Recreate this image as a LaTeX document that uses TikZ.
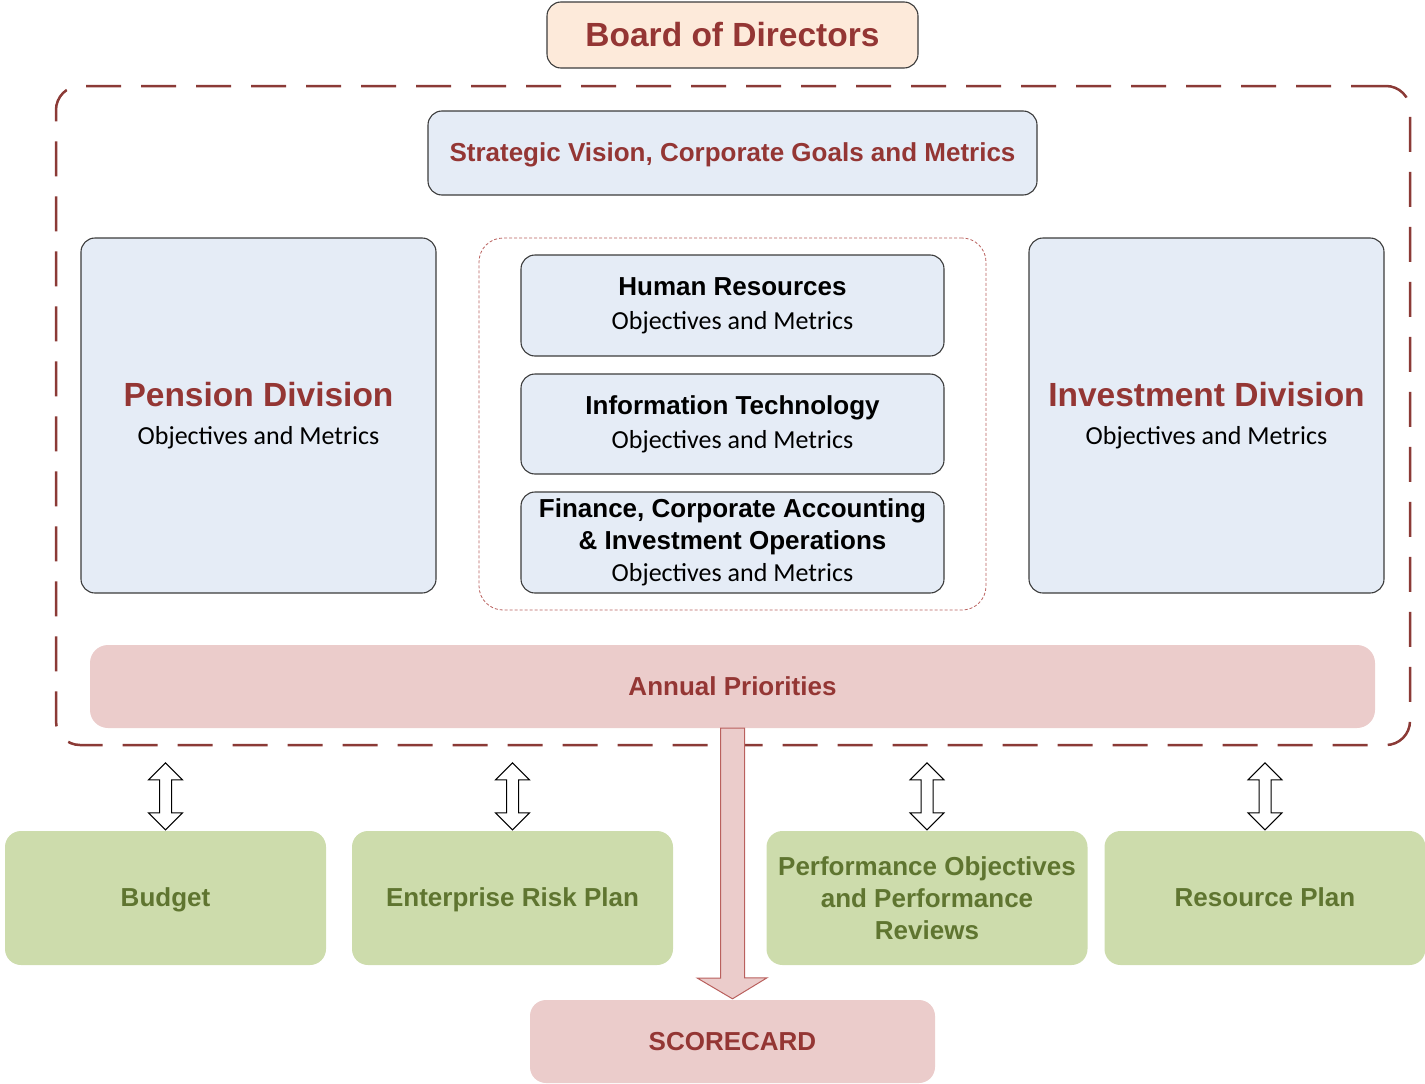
\documentclass[tikz,border=0pt]{standalone}
\usepackage{fontspec}
\setmainfont{Liberation Sans}
\newfontfamily\calibri{Carlito}
\usetikzlibrary{positioning}

\definecolor{boxline}{HTML}{3C3C3C}
\definecolor{boardfill}{HTML}{FDEADA}
\definecolor{bluefill}{HTML}{E5ECF6}
\definecolor{pinkfill}{HTML}{EBCCCB}
\definecolor{greenfill}{HTML}{CDDCAC}
\definecolor{greentext}{HTML}{5F7530}
\definecolor{redtext}{HTML}{943634}
\definecolor{framered}{HTML}{8B3A36}
\definecolor{arrowred}{HTML}{B9605D}

\begin{document}
\begin{tikzpicture}[x=1pt,y=-1pt,every node/.style={align=center,inner sep=0pt}]
  \tikzstyle{box}=[draw=boxline, line width=1.1pt, rounded corners=14, fill=bluefill]
  \tikzstyle{oneline}=[text height=19, text depth=2]
  \tikzstyle{frame}=[draw=framered, line width=2.5pt, rounded corners=24, dash pattern=on 35pt off 20pt]
  \tikzstyle{group}=[draw=arrowred, line width=0.8pt, rounded corners=24, dash pattern=on 3pt off 2pt]
  \tikzstyle{plan}=[fill=greenfill, rounded corners=16, minimum width=321, minimum height=134,
                    text=greentext, font=\bfseries\fontsize{26}{32}\selectfont]
  \tikzstyle{updown}=[draw=black, fill=white, line width=1pt]
  \tikzstyle{bigarrow}=[draw=arrowred, line width=1pt, fill=pinkfill]

\useasboundingbox (0,0) rectangle (1425,1084);

% dashed frames behind everything
\node[frame, minimum width=1354, minimum height=659] (core) at (733,415.5) {};
\node[group, minimum width=507, minimum height=372] (support) at (732.5,424) {};

\node[box, oneline, fill=boardfill, minimum width=371, minimum height=66, text=redtext,
      font=\bfseries\fontsize{33.5}{40}\selectfont, text height=24] (board) at (732.5,35) {Board of Directors};

\node[box, oneline, minimum width=609, minimum height=84, text=redtext,
      font=\bfseries\fontsize{26}{32}\selectfont] (vision) at (732.5,153)
      {Strategic Vision, Corporate Goals and Metrics};

% divisions
\node[box, minimum width=355, minimum height=355, font=\fontsize{26}{38}\selectfont] (pension) at (258.5,415.5)
      {\textcolor{redtext}{\bfseries\fontsize{33.5}{38}\selectfont Pension Division}\\ {\calibri Objectives and Metrics}};
\node[box, minimum width=355, minimum height=355, font=\fontsize{26}{38}\selectfont] (invest) at (1206.5,415.5)
      {\textcolor{redtext}{\bfseries\fontsize{33.5}{38}\selectfont Investment Division}\\ {\calibri Objectives and Metrics}};

% support functions
\node[box, minimum width=423, minimum height=101, font=\bfseries\fontsize{26}{34}\selectfont] (hr) at (732.5,305.5)
      {Human Resources\\ {\calibri\mdseries Objectives and Metrics}};
\node[box, minimum width=423, minimum height=100, font=\bfseries\fontsize{26}{34}\selectfont] (it) at (732.5,424)
      {Information Technology\\ {\calibri\mdseries Objectives and Metrics}};
\node[box, minimum width=423, minimum height=101, font=\bfseries\fontsize{26}{32}\selectfont] (fin) at (732.5,542.5)
      {Finance, Corporate Accounting\\ \& Investment Operations\\ {\calibri\mdseries Objectives and Metrics}};

\node[oneline, fill=pinkfill, rounded corners=18, minimum width=1285, minimum height=83, text=redtext,
      font=\bfseries\fontsize{26}{32}\selectfont] (prio) at (732.5,686.5) {Annual Priorities};

% plans below the frame
\node[plan, oneline] (budget) at (165.5,898) {Budget};
\node[plan, oneline] (risk) at (512.5,898) {Enterprise Risk Plan};
\node[plan] (perf) at (927,898) {Performance Objectives\\ and Performance\\ Reviews};
\node[plan, oneline] (resource) at (1265,898) {Resource Plan};

\node[oneline, fill=pinkfill, rounded corners=16, minimum width=405, minimum height=83, text=redtext,
      font=\bfseries\fontsize{26}{32}\selectfont] (score) at (732.5,1041.5) {SCORECARD};

% two-way arrows between the frame and each plan
\foreach \p in {budget,risk,perf,resource}
  \draw[updown] ([yshift=1]\p.north) -- ++(17,-17) -- ++(-11,0) -- ++(0,-33) -- ++(11,0)
    -- ++(-17,-17) -- ++(-17,17) -- ++(11,0) -- ++(0,33) -- ++(-11,0) -- cycle;

\draw[bigarrow] ([xshift=-12]prio.south) -- ++(0,250) -- ++(-23,0) -- ([yshift=1]score.north)
  -- ++(34.5,-21) -- ++(-22.5,0) -- ([xshift=12]prio.south) -- cycle;

\end{tikzpicture}
\end{document}
